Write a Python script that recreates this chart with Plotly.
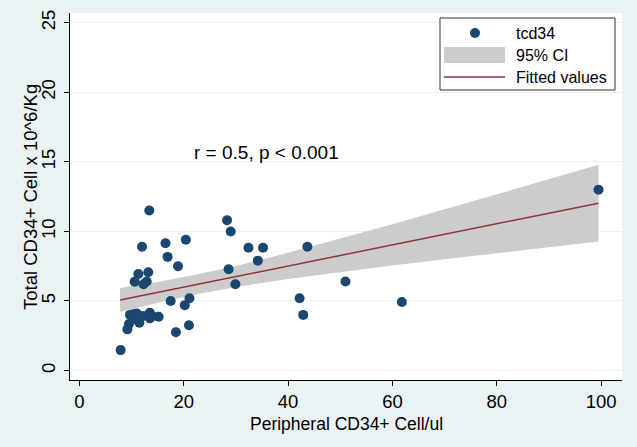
import plotly.graph_objects as go

# Scatter data
px_cells = [7.9, 13.4, 12.0, 16.5, 20.4, 16.9, 18.9, 13.2, 11.3, 10.6, 12.9,
            17.5, 21.1, 20.2, 9.7, 9.5, 9.2, 10.3, 11.5, 12.2, 13.5, 13.5, 15.2,
            18.5, 21.0, 28.3, 29.0, 32.4, 35.2, 34.2, 28.6, 29.9, 43.7, 51.0,
            42.2, 42.9, 61.8, 99.5, 10.5, 11.0, 12.3, 14.0]
tcd34 = [1.47, 11.5, 8.9, 9.15, 9.4, 8.17, 7.5, 7.06, 6.94, 6.39, 6.4,
         5.0, 5.2, 4.7, 4.0, 3.35, 2.96, 4.04, 3.44, 3.92, 4.16, 3.75, 3.87,
         2.75, 3.25, 10.8, 10.0, 8.83, 8.83, 7.9, 7.28, 6.2, 8.9, 6.4,
         5.2, 4.0, 4.93, 13.0, 3.7, 4.1, 6.2, 3.9]

# Fitted line and 95% CI
fit_x = [7.8, 99.5]
fit_y = [5.07, 12.03]
ci_x = [7.8, 15, 22, 30, 40, 50, 60, 70, 80, 90, 99.5]
ci_lo = [4.21, 4.87, 5.44, 6.00, 6.58, 7.08, 7.55, 8.00, 8.44, 8.87, 9.27]
ci_hi = [5.93, 6.37, 6.86, 7.52, 8.46, 9.47, 10.52, 11.59, 12.67, 13.75, 14.79]

x_ticks = [0, 20, 40, 60, 80, 100]
y_ticks = [0, 5, 10, 15, 20, 25]
legend_labels = ["tcd34", "95% CI", "Fitted values"]

FONT = "Liberation Sans, Arial, sans-serif"
BG = "#eaf2f3"
NAVY = "#1a476f"
GREY = "#cccccc"
MAROON = "#90353b"

W, H = 637, 447
ML, MR, MT, MB = 70, 15, 13, 67
PW, PH = W - ML - MR, H - MT - MB


def pxx(p):
    return (p - ML) / PW


def pxy(p):
    return (H - MB - p) / PH


fig = go.Figure()

fig.add_trace(go.Scatter(
    x=ci_x + ci_x[::-1], y=ci_hi + ci_lo[::-1],
    fill="toself", fillcolor=GREY, line=dict(width=0, color=GREY),
    mode="lines", name="95% CI", hoverinfo="skip", showlegend=False))

fig.add_trace(go.Scatter(
    x=fit_x, y=fit_y, mode="lines", name="Fitted values",
    line=dict(color=MAROON, width=1.5), showlegend=False))

fig.add_trace(go.Scatter(
    x=px_cells, y=tcd34, mode="markers", name="tcd34",
    marker=dict(color=NAVY, size=10), showlegend=False))

fig.add_annotation(x=35.9, y=15.65, text="r = 0.5, p < 0.001", showarrow=False,
                   font=dict(size=19, color="#000000", family=FONT))

# axis titles
fig.add_annotation(x=0.5, y=pxy(424), xref="paper", yref="paper",
                   text="Peripheral CD34+ Cell/ul", showarrow=False,
                   xanchor="center", yanchor="middle",
                   font=dict(size=17.5, color="#000000", family=FONT))
fig.add_annotation(x=pxx(30), y=pxy(197), xref="paper", yref="paper",
                   text="Total CD34+ Cell x 10^6/Kg", showarrow=False,
                   textangle=-90, xanchor="center", yanchor="middle",
                   font=dict(size=18.5, color="#000000", family=FONT))

# legend (drawn manually to mimic the wide keys)
shapes = [
    dict(type="rect", xref="paper", yref="paper",
         x0=pxx(440), x1=pxx(615), y0=pxy(90), y1=pxy(18),
         fillcolor="#ffffff", line=dict(color="#333333", width=1), layer="above"),
    dict(type="circle", xref="paper", yref="paper",
         x0=pxx(470), x1=pxx(480), y0=pxy(38), y1=pxy(28),
         fillcolor=NAVY, line=dict(color=NAVY, width=0), layer="above"),
    dict(type="rect", xref="paper", yref="paper",
         x0=pxx(444), x1=pxx(505), y0=pxy(63), y1=pxy(47),
         fillcolor=GREY, line=dict(width=0), layer="above"),
    dict(type="line", xref="paper", yref="paper",
         x0=pxx(444), x1=pxx(505), y0=pxy(77), y1=pxy(77),
         line=dict(color=MAROON, width=1.5), layer="above"),
]
for lab, yy in zip(legend_labels, [33, 55, 77]):
    fig.add_annotation(x=pxx(514), y=pxy(yy), xref="paper", yref="paper",
                       text=lab, showarrow=False, xanchor="left", yanchor="middle",
                       font=dict(size=16, color="#000000", family=FONT))

fig.update_layout(
    width=W, height=H,
    paper_bgcolor=BG, plot_bgcolor="#ffffff",
    margin=dict(l=ML, r=MR, t=MT, b=MB, autoexpand=False),
    font=dict(family=FONT, color="#000000"),
    showlegend=False,
    shapes=shapes,
)

fig.update_xaxes(
    range=[-1.8, 104], tickvals=x_ticks, ticks="outside", ticklen=5,
    tickcolor="#000000", showline=True, linecolor="#000000", linewidth=1,
    showgrid=False, zeroline=False, automargin=False,
    tickfont=dict(size=18.5, family=FONT))

fig.update_yaxes(
    range=[-0.68, 25.7], tickvals=y_ticks, ticks="outside", ticklen=5,
    tickcolor="#000000", showline=True, linecolor="#000000", linewidth=1,
    showgrid=True, gridcolor=BG, gridwidth=1, zeroline=False, tickangle=-90,
    automargin=False, ticklabelstandoff=2,
    tickfont=dict(size=18.5, family=FONT))

fig.write_html("out.html",
               config={"displayModeBar": False},
               post_script="document.body.style.margin='0';"
                           "document.body.style.background='%s';" % BG)
